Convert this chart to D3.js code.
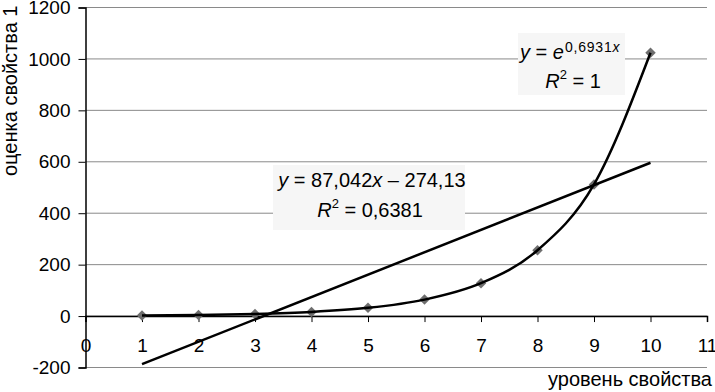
<!DOCTYPE html>
<html>
<head>
<meta charset="utf-8">
<script src="https://cdn.jsdelivr.net/npm/d3@7"></script>
<style>
  body { margin: 0; background: #fff; }
  svg text { font-family: "Liberation Sans", Arial, sans-serif; }
</style>
</head>
<body>
<div id="chart"></div>
<script>
// data
const levels = [1, 2, 3, 4, 5, 6, 7, 8, 9, 10]
const scores = [2, 4, 8, 16, 32, 64, 128, 256, 512, 1024]
const trendLevels = [1, 10]
const trendScores = [-187.1, 596.3]
const xTicks = [0, 1, 2, 3, 4, 5, 6, 7, 8, 9, 10, 11]
const yTicks = [-200, 0, 200, 400, 600, 800, 1000, 1200]

const width = 715, height = 392
const margin = {top: 7.5, right: 8, bottom: 24.5, left: 85.5}

const svg = d3.select("#chart").append("svg")
    .attr("width", width)
    .attr("height", height)

const x = d3.scaleLinear()
    .domain([0, 11])
    .range([margin.left, width - margin.right])

const y = d3.scaleLinear()
    .domain([-200, 1200])
    .range([height - margin.bottom, margin.top])

// gridlines
svg.append("g")
    .selectAll("line")
    .data(yTicks)
    .enter().append("line")
    .attr("x1", x(0))
    .attr("x2", x(11))
    .attr("y1", d => y(d))
    .attr("y2", d => y(d))
    .attr("stroke", "#8a8a8a")
    .attr("stroke-width", 1)

// y axis
const yAxis = svg.append("g")
    .attr("transform", `translate(${x(0)},0)`)
    .call(d3.axisLeft(y).tickValues(yTicks).tickFormat(d => String(d)).tickSize(7).tickPadding(8))
yAxis.select(".domain").attr("stroke", "#000").attr("stroke-width", 1.5)
yAxis.selectAll(".tick line").attr("stroke", "#000")
yAxis.selectAll("text").attr("font-size", 19).attr("fill", "#000")

// x axis on the zero line
const xAxis = svg.append("g")
    .attr("transform", `translate(0,${y(0)})`)
    .call(d3.axisBottom(x).tickValues(xTicks).tickFormat(d => String(d)).tickSize(6).tickPadding(16))
xAxis.select(".domain").attr("stroke", "#000").attr("stroke-width", 1.5)
xAxis.selectAll(".tick line").attr("stroke", "#000")
xAxis.selectAll("text").attr("font-size", 19).attr("fill", "#000")

// axis titles
svg.append("text")
    .attr("transform", `translate(17,176) rotate(-90)`)
    .attr("font-size", 20)
    .text("оценка свойства 1")

svg.append("text")
    .attr("x", 712)
    .attr("y", 386)
    .attr("text-anchor", "end")
    .attr("font-size", 20)
    .text("уровень свойства")

// label boxes (drawn before lines so lines pass over)
const linBox = svg.append("g")
linBox.append("rect")
    .attr("x", 273).attr("y", 165).attr("width", 192).attr("height", 65)
    .attr("fill", "#f6f6f6")
const linText = linBox.append("text")
    .attr("x", 372).attr("y", 187)
    .attr("text-anchor", "middle")
    .attr("font-size", 20)
linText.append("tspan").attr("font-style", "italic").text("y")
linText.append("tspan").text(" = 87,042")
linText.append("tspan").attr("font-style", "italic").text("x")
linText.append("tspan").text(" – 274,13")
const linR = linBox.append("text")
    .attr("x", 370).attr("y", 217)
    .attr("text-anchor", "middle")
    .attr("font-size", 20)
linR.append("tspan").attr("font-style", "italic").text("R")
linR.append("tspan").attr("font-size", 13).attr("dy", -9).text("2")
linR.append("tspan").attr("dy", 9).text(" = 0,6381")

const expBox = svg.append("g")
expBox.append("rect")
    .attr("x", 518).attr("y", 33).attr("width", 107).attr("height", 62)
    .attr("fill", "#f6f6f6")
const expText = expBox.append("text")
    .attr("x", 520).attr("y", 59)
    .attr("font-size", 20)
expText.append("tspan").attr("font-style", "italic").text("y")
expText.append("tspan").text(" = ")
expText.append("tspan").attr("font-style", "italic").text("e")
expText.append("tspan").attr("font-size", 14).attr("letter-spacing", 0.8)
    .attr("dy", -7).attr("dx", 1).text("0,6931")
expText.append("tspan").attr("font-size", 14).attr("font-style", "italic").text("x")
const expR = expBox.append("text")
    .attr("x", 573).attr("y", 88)
    .attr("text-anchor", "middle")
    .attr("font-size", 20)
expR.append("tspan").attr("font-style", "italic").text("R")
expR.append("tspan").attr("font-size", 13).attr("dy", -9).text("2")
expR.append("tspan").attr("dy", 9).text(" = 1")

// markers
svg.append("g")
    .selectAll("path")
    .data(levels)
    .enter().append("path")
    .attr("d", d3.symbol().type(d3.symbolDiamond2).size(70))
    .attr("transform", (d, i) => `translate(${x(d)},${y(scores[i])})`)
    .attr("fill", "#6e6e6e")

// exponential trend curve through the points
svg.append("path")
    .datum(levels)
    .attr("fill", "none")
    .attr("stroke", "#000")
    .attr("stroke-width", 2.5)
    .attr("d", d3.line()
        .x(d => x(d))
        .y((d, i) => y(scores[i]))
        .curve(d3.curveMonotoneX))

// linear trend line
svg.append("path")
    .datum(trendLevels)
    .attr("fill", "none")
    .attr("stroke", "#000")
    .attr("stroke-width", 2.5)
    .attr("d", d3.line()
        .x(d => x(d))
        .y((d, i) => y(trendScores[i])))
</script>
</body>
</html>
